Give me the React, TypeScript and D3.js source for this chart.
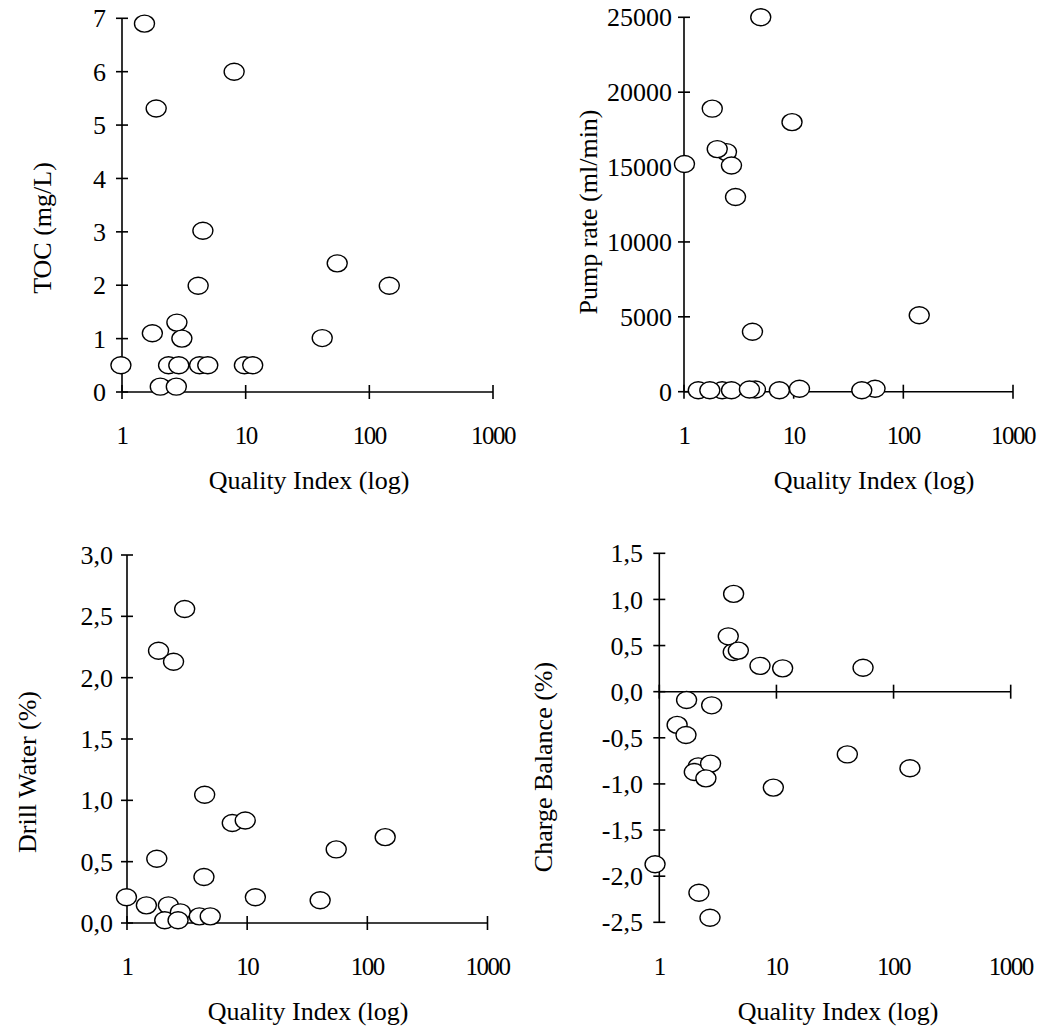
import React from "react";
import * as d3 from "d3";

// ---------- data ----------
const xTickValues = [1, 10, 100, 1000];
const xTickLabels = ["1", "10", "100", "1000"];
const xTitle = "Quality Index (log)";

// TOC (mg/L)
const tocX = [1.52, 1.89, 8.07, 4.51, 4.13, 55, 145, 41.6, 1.76, 2.78, 3.05, 0.98, 2.38, 2.88, 4.24, 4.94, 9.77, 11.4, 2.04, 2.75];
const tocY = [6.9, 5.31, 6.0, 3.02, 1.99, 2.41, 1.99, 1.01, 1.1, 1.3, 1.0, 0.5, 0.5, 0.5, 0.5, 0.5, 0.5, 0.5, 0.1, 0.1];
const tocTicks = [0, 1, 2, 3, 4, 5, 6, 7];

// Pump rate (ml/min)
const pumpX = [5.01, 1.81, 9.66, 2.44, 2.01, 2.71, 1.01, 2.95, 4.21, 139.7, 1.35, 2.23, 1.72, 2.71, 4.48, 3.95, 7.41, 11.3, 55.2, 41.8];
const pumpY = [25000, 18900, 18000, 16000, 16200, 15100, 15200, 13000, 4000, 5100, 100, 100, 100, 100, 150, 150, 100, 200, 200, 100];
const pumpTicks = [0, 5000, 10000, 15000, 20000, 25000];

// Drill Water (%)
const drillX = [3.02, 1.83, 2.44, 4.43, 7.52, 9.64, 140.8, 55.1, 1.77, 4.37, 11.7, 40.5, 0.99, 1.45, 2.21, 2.78, 2.06, 2.66, 4.0, 4.93];
const drillY = [2.56, 2.22, 2.13, 1.045, 0.815, 0.836, 0.7, 0.6, 0.524, 0.375, 0.21, 0.185, 0.21, 0.144, 0.144, 0.087, 0.022, 0.022, 0.054, 0.054];
const drillTicks = [0, 0.5, 1, 1.5, 2, 2.5, 3];

// Charge Balance (%)
const chargeX = [4.31, 4.28, 3.88, 4.73, 7.24, 11.3, 54.9, 1.71, 2.8, 1.42, 1.69, 2.15, 1.99, 2.74, 2.5, 9.41, 40.3, 138, 0.92, 2.18, 2.71];
const chargeY = [1.06, 0.43, 0.6, 0.445, 0.28, 0.253, 0.26, -0.09, -0.148, -0.36, -0.47, -0.81, -0.87, -0.78, -0.94, -1.04, -0.68, -0.83, -1.87, -2.18, -2.45];
const chargeTicks = [-2.5, -2, -1.5, -1, -0.5, 0, 0.5, 1, 1.5];

// ---------- layout ----------
const FONT = "'Liberation Serif', 'Times New Roman', serif";
const YFS = 26;
const XFS = 25;
const TFS = 26;

const intFmt = (v: number) => String(v);
const commaFmt = (v: number) => d3.format(".1f")(v).replace(".", ",").replace("\u2212", "-");

type PanelProps = {
  xs: number[];
  ys: number[];
  yDomain: [number, number];
  yTicks: number[];
  fmt: (v: number) => string;
  xRange: [number, number];
  yRange: [number, number];
  xTickBase: number;
  xTitlePos: [number, number];
  yLabelEnd: number;
  yTitle: string;
  yTitlePos: [number, number];
};

function Panel(p: PanelProps) {
  const x = d3.scaleLog().domain([1, 1000]).range(p.xRange);
  const y = d3.scaleLinear().domain(p.yDomain).range(p.yRange);
  const ax = x(1);
  const ay = y(Math.max(0, p.yDomain[0]));
  const sw = 1.6;
  return (
    <g>
      {/* y axis */}
      <line x1={ax} x2={ax} y1={y(p.yDomain[0])} y2={y(p.yDomain[1])} stroke="#000" strokeWidth={sw} />
      {p.yTicks.map((t) => (
        <g key={"yt" + t}>
          <line x1={ax - 6} x2={ax + 6} y1={y(t)} y2={y(t)} stroke="#000" strokeWidth={sw} />
          <text x={p.yLabelEnd} y={y(t)} dy="0.35em" textAnchor="end" fontSize={YFS} fontFamily={FONT}>
            {p.fmt(t)}
          </text>
        </g>
      ))}
      {/* x axis */}
      <line x1={x(1)} x2={x(1000)} y1={ay} y2={ay} stroke="#000" strokeWidth={sw} />
      {xTickValues.map((t, i) => (
        <g key={"xt" + t}>
          <line x1={x(t)} x2={x(t)} y1={ay - 7} y2={ay + 7} stroke="#000" strokeWidth={sw} />
          <text x={x(t)} y={p.xTickBase} textAnchor="middle" fontSize={XFS} fontFamily={FONT} letterSpacing={-1.5}>
            {xTickLabels[i]}
          </text>
        </g>
      ))}
      <text x={p.xTitlePos[0]} y={p.xTitlePos[1]} textAnchor="middle" fontSize={TFS} fontFamily={FONT}>
        {xTitle}
      </text>
      <text
        transform={`translate(${p.yTitlePos[0]},${p.yTitlePos[1]}) rotate(-90)`}
        textAnchor="middle"
        dy="0.35em"
        fontSize={TFS}
        fontFamily={FONT}
      >
        {p.yTitle}
      </text>
      {/* points */}
      {p.xs.map((v, i) => (
        <ellipse
          key={"p" + i}
          cx={x(v)}
          cy={y(p.ys[i])}
          rx={10}
          ry={8.5}
          fill="#fff"
          stroke="#000"
          strokeWidth={1.4}
        />
      ))}
    </g>
  );
}

export default function App() {
  return (
    <svg
      width={1046}
      height={1027}
      style={{ position: "absolute", left: 0, top: 0, background: "#fff" }}
    >
      <rect width={1046} height={1027} fill="#fff" />
      <Panel
        xs={tocX}
        ys={tocY}
        yDomain={[0, 7]}
        yTicks={tocTicks}
        fmt={intFmt}
        xRange={[122, 493]}
        yRange={[392, 18.3]}
        xTickBase={444}
        xTitlePos={[309, 489]}
        yLabelEnd={106}
        yTitle="TOC (mg/L)"
        yTitlePos={[42, 228]}
      />
      <Panel
        xs={pumpX}
        ys={pumpY}
        yDomain={[0, 25000]}
        yTicks={pumpTicks}
        fmt={intFmt}
        xRange={[684, 1013]}
        yRange={[391.7, 17.3]}
        xTickBase={444}
        xTitlePos={[874, 489]}
        yLabelEnd={672}
        yTitle="Pump rate (ml/min)"
        yTitlePos={[588, 212]}
      />
      <Panel
        xs={drillX}
        ys={drillY}
        yDomain={[0, 3]}
        yTicks={drillTicks}
        fmt={commaFmt}
        xRange={[127, 487.5]}
        yRange={[923, 555]}
        xTickBase={975}
        xTitlePos={[308, 1020]}
        yLabelEnd={113}
        yTitle="Drill Water (%)"
        yTitlePos={[27, 772]}
      />
      <Panel
        xs={chargeX}
        ys={chargeY}
        yDomain={[-2.5, 1.5]}
        yTicks={chargeTicks}
        fmt={commaFmt}
        xRange={[659.3, 1010.7]}
        yRange={[922.3, 553.3]}
        xTickBase={975}
        xTitlePos={[838, 1020]}
        yLabelEnd={643}
        yTitle="Charge Balance (%)"
        yTitlePos={[543, 767]}
      />
    </svg>
  );
}
